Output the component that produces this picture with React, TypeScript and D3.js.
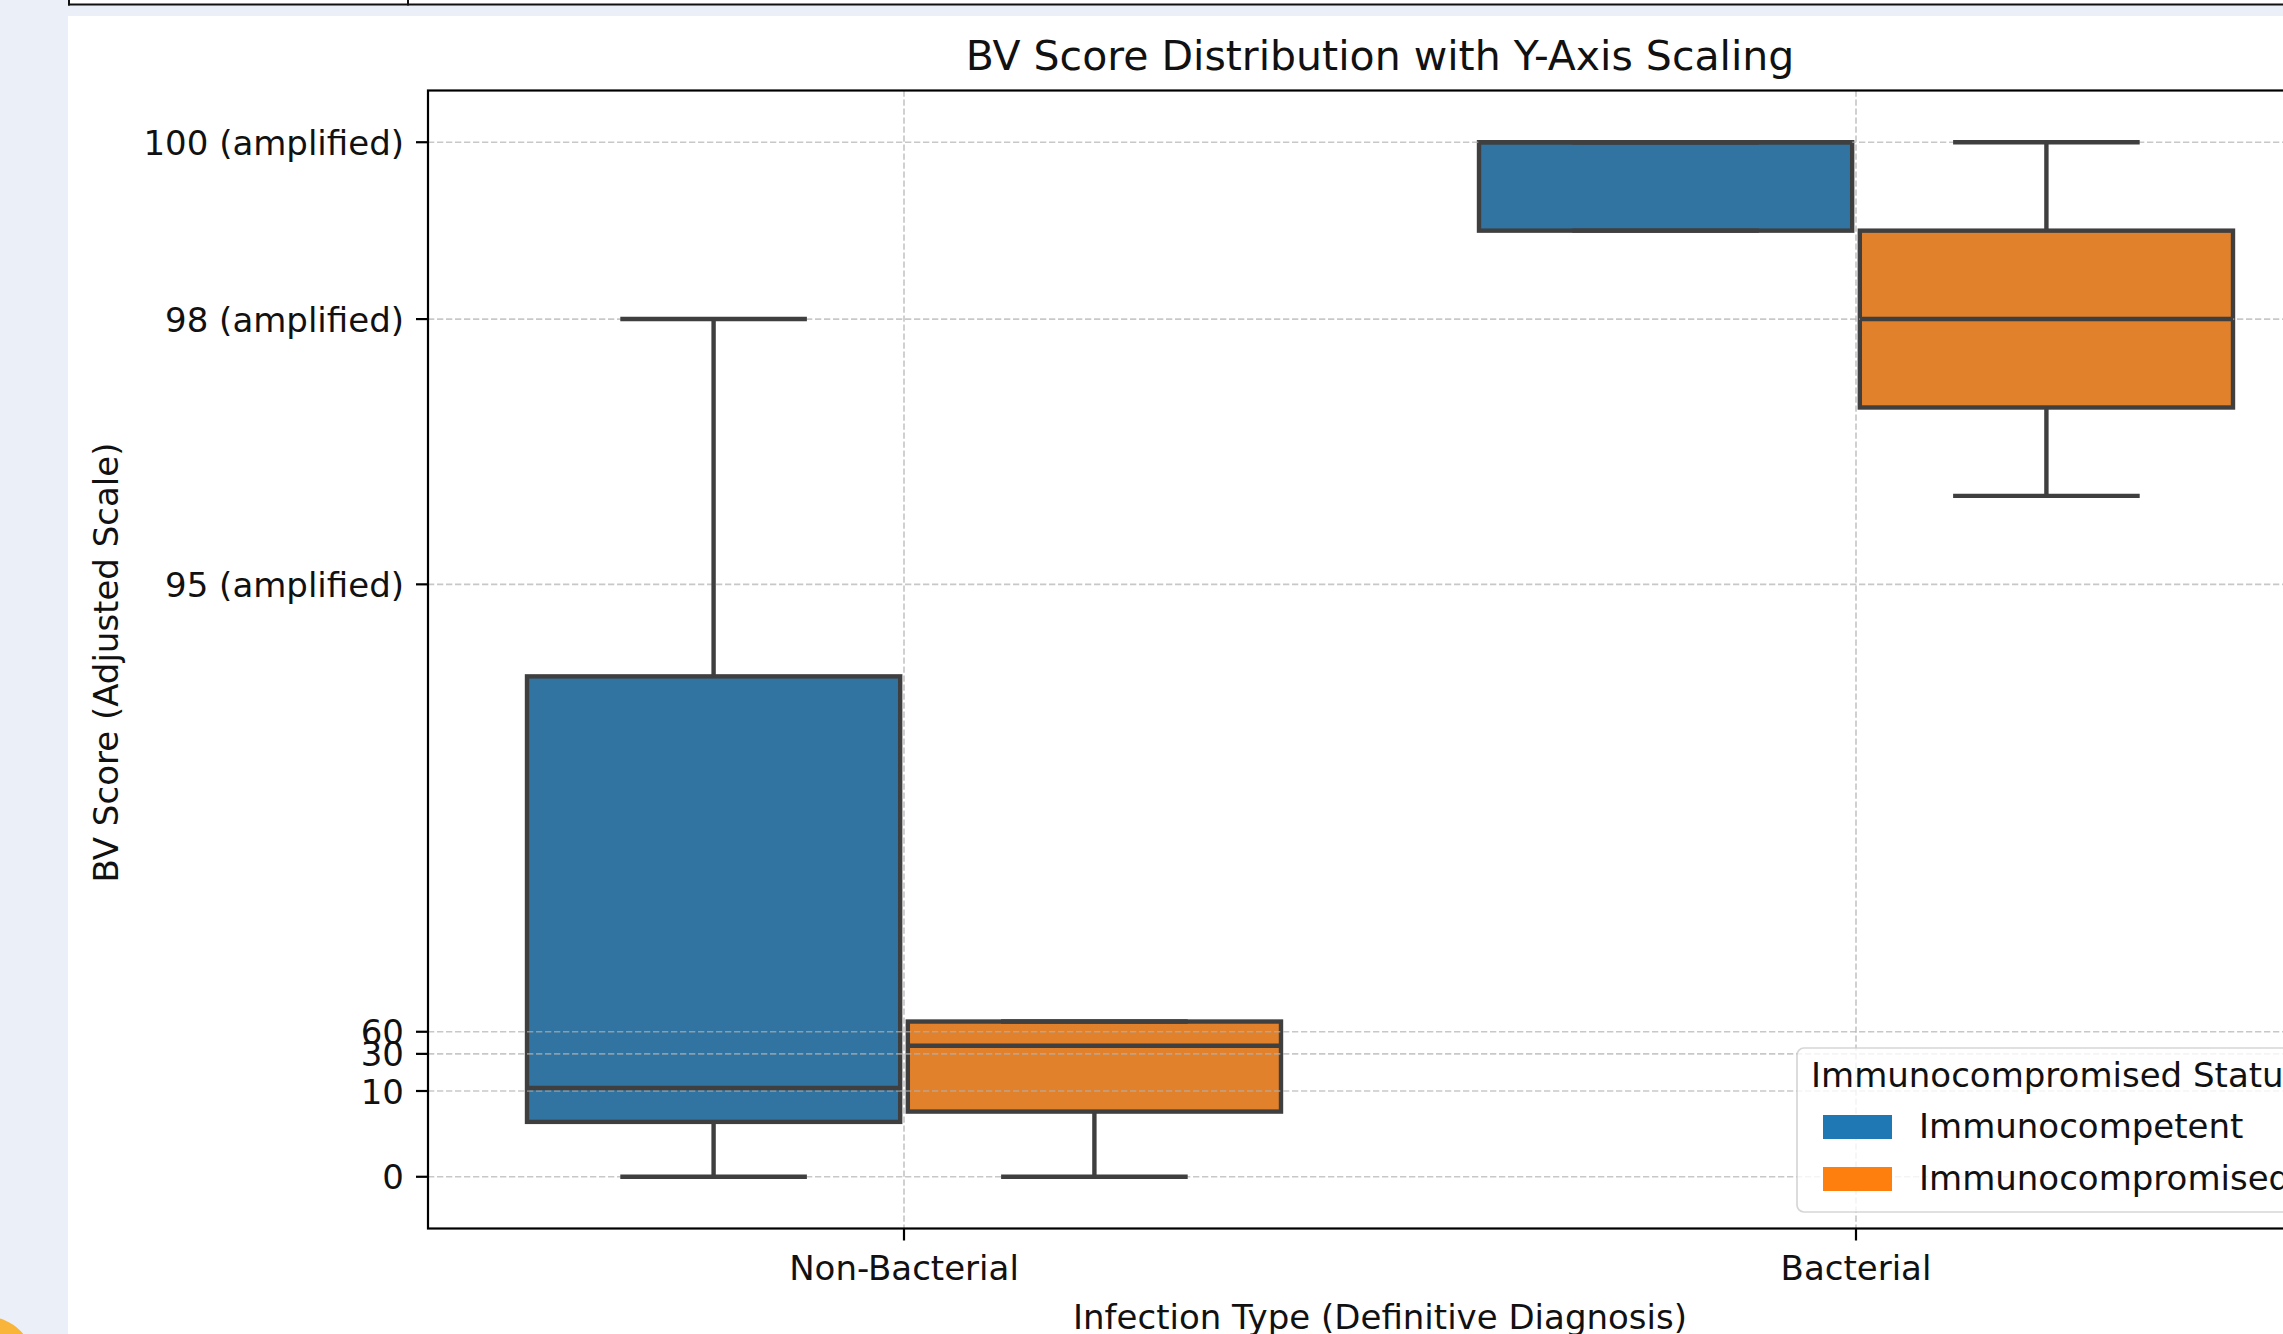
import React from "react";
import * as d3 from "d3";

// ---------- data ----------
const categories = ["Non-Bacterial", "Bacterial"];
const hueLevels = ["Immunocompetent", "Immunocompromised"];

// box statistics per category (real BV scores)
const competentLow = [0, 99];
const competentQ1 = [6.4, 99];
const competentMedian = [11.6, 100];
const competentQ3 = [87.8, 100];
const competentHigh = [98, 100];

const compromisedLow = [0, 96];
const compromisedQ1 = [7.6, 97];
const compromisedMedian = [41, 98];
const compromisedQ3 = [60.8, 99];
const compromisedHigh = [60.8, 100];

// y-axis: real tick values, their labels, and where they sit on the adjusted scale
const yTickValues = [0, 10, 30, 60, 95, 98, 100];
const yTickLabels = ["0", "10", "30", "60", "95 (amplified)", "98 (amplified)", "100 (amplified)"];
const yAdjustedPositions = [88.3, 89.27, 89.69, 89.94, 95, 98, 100];

const boxFills = ["#3274a1", "#e1812c"];
const legendFills = ["#1f77b4", "#ff7f0e"];

// ---------- layout ----------
const W = 2283;
const H = 1334;
const axLeft = 428;
const axRight = 2332;
const axTop = 90.5;
const axBottom = 1228.5;
const FONT = "'DejaVu Sans', Verdana, sans-serif";
const lineColor = "#3f3f3f";

export default function App() {
  const x = d3.scaleLinear().domain([-0.5, categories.length - 0.5]).range([axLeft, axRight]);
  const adjust = d3.scaleLinear().domain(yTickValues).range(yAdjustedPositions);
  const adjMin = d3.min(yAdjustedPositions) as number;
  const adjMax = d3.max(yAdjustedPositions) as number;
  const pad = (adjMax - adjMin) * 0.05;
  const yAdj = d3.scaleLinear().domain([adjMin - pad, adjMax + pad]).range([axBottom, axTop]);
  const y = (v: number) => yAdj(adjust(v));

  const hueOffset = [-0.2, 0.2];
  const boxW = 0.392;
  const series = [
    { low: competentLow, q1: competentQ1, med: competentMedian, q3: competentQ3, high: competentHigh },
    { low: compromisedLow, q1: compromisedQ1, med: compromisedMedian, q3: compromisedQ3, high: compromisedHigh },
  ];

  const boxes: any[] = [];
  series.forEach((s, h) => {
    categories.forEach((c, i) => {
      const cx = i + hueOffset[h];
      boxes.push({
        key: `${h}-${i}`,
        h,
        xl: x(cx - boxW / 2),
        xr: x(cx + boxW / 2),
        xc: x(cx),
        capL: x(cx - boxW / 4),
        capR: x(cx + boxW / 4),
        low: y(s.low[i]),
        q1: y(s.q1[i]),
        med: y(s.med[i]),
        q3: y(s.q3[i]),
        high: y(s.high[i]),
      });
    });
  });

  const lw = 4.4;
  const tickLen = 12;
  const fs = 34;

  // legend
  const legX = 1797;
  const legY = 1048;
  const legW = 518;
  const legH = 164;

  return (
    <svg
      width={W}
      height={H}
      style={{ position: "absolute", left: 0, top: 0, display: "block" }}
      fontFamily={FONT}
    >
      {/* page decoration */}
      <rect x={0} y={0} width={W} height={H} fill="#ebf0f8" />
      <rect x={68} y={16} width={W - 68} height={H - 16} fill="#ffffff" />
      <rect x={68} y={0} width={W - 68} height={5} fill="#ffffff" />
      <line x1={68} x2={W} y1={4.5} y2={4.5} stroke="#111" strokeWidth={2.2} />
      <line x1={69} x2={69} y1={0} y2={5.5} stroke="#111" strokeWidth={2} />
      <line x1={408} x2={408} y1={0} y2={5.5} stroke="#111" strokeWidth={2} />
      <circle cx={-12} cy={1362} r={45} fill="#f8b53a" />

      {/* boxes (patches) */}
      {boxes.map((b) => (
        <rect
          key={"box" + b.key}
          x={b.xl}
          y={b.q3}
          width={b.xr - b.xl}
          height={b.q1 - b.q3}
          fill={boxFills[b.h]}
          stroke={lineColor}
          strokeWidth={lw}
        />
      ))}

      {/* grid */}
      <g stroke="#b0b0b0" strokeOpacity={0.7} strokeWidth={1.7} strokeDasharray="6.3,2.7">
        {yTickValues.map((v) => (
          <line key={"gy" + v} x1={axLeft} x2={axRight} y1={y(v)} y2={y(v)} />
        ))}
        {categories.map((c, i) => (
          <line key={"gx" + c} x1={x(i)} x2={x(i)} y1={axTop} y2={axBottom} />
        ))}
      </g>

      {/* whiskers, caps, medians */}
      <g stroke={lineColor} strokeWidth={lw} fill="none">
        {boxes.map((b) => (
          <g key={"w" + b.key}>
            <line x1={b.xc} x2={b.xc} y1={b.q1} y2={b.low} />
            <line x1={b.xc} x2={b.xc} y1={b.q3} y2={b.high} />
            <line x1={b.capL} x2={b.capR} y1={b.low} y2={b.low} />
            <line x1={b.capL} x2={b.capR} y1={b.high} y2={b.high} />
            <line x1={b.xl} x2={b.xr} y1={b.med} y2={b.med} />
          </g>
        ))}
      </g>

      {/* spines */}
      <rect
        x={axLeft}
        y={axTop}
        width={axRight - axLeft}
        height={axBottom - axTop}
        fill="none"
        stroke="#000"
        strokeWidth={2.2}
      />

      {/* y ticks */}
      {yTickValues.map((v, i) => (
        <g key={"yt" + v}>
          <line x1={axLeft - tickLen} x2={axLeft} y1={y(v)} y2={y(v)} stroke="#000" strokeWidth={2.2} />
          <text x={axLeft - tickLen - 12} y={y(v) + 12.5} textAnchor="end" fontSize={fs} fill="#111">
            {yTickLabels[i]}
          </text>
        </g>
      ))}

      {/* x ticks */}
      {categories.map((c, i) => (
        <g key={"xt" + c}>
          <line x1={x(i)} x2={x(i)} y1={axBottom} y2={axBottom + tickLen} stroke="#000" strokeWidth={2.2} />
          <text x={x(i)} y={1280} textAnchor="middle" fontSize={fs} fill="#111">
            {c}
          </text>
        </g>
      ))}

      {/* legend */}
      <rect
        x={legX}
        y={legY}
        width={legW}
        height={legH}
        rx={7}
        ry={7}
        fill="#ffffff"
        fillOpacity={0.8}
        stroke="#cccccc"
        strokeOpacity={0.8}
        strokeWidth={1.7}
      />
      <text x={1811} y={1087} fontSize={fs} fill="#111">
        Immunocompromised Status
      </text>
      {hueLevels.map((lab, i) => (
        <g key={"leg" + lab}>
          <rect x={1823} y={1115 + i * 52} width={69} height={24} fill={legendFills[i]} />
          <text x={1919} y={1138 + i * 52} fontSize={fs} fill="#111">
            {lab}
          </text>
        </g>
      ))}

      {/* titles */}
      <text x={(axLeft + axRight) / 2} y={70} textAnchor="middle" fontSize={41} fill="#111">
        BV Score Distribution with Y-Axis Scaling
      </text>
      <text x={(axLeft + axRight) / 2} y={1329} textAnchor="middle" fontSize={fs} fill="#111">
        Infection Type (Definitive Diagnosis)
      </text>
      <text
        transform={`translate(118, ${(axTop + axBottom) / 2 + 3}) rotate(-90)`}
        textAnchor="middle"
        fontSize={fs}
        fill="#111"
      >
        BV Score (Adjusted Scale)
      </text>
    </svg>
  );
}
